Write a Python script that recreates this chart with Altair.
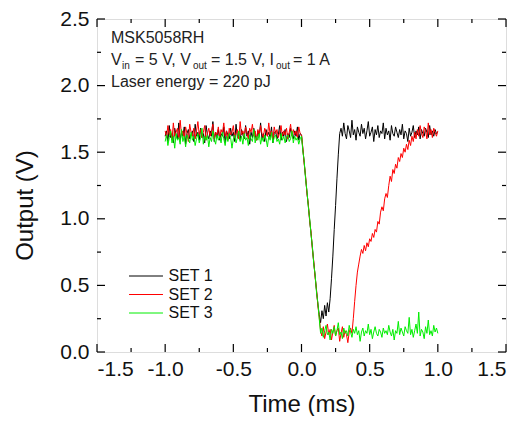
import altair as alt
import pandas as pd

# time grid (ms), 0.01 ms step from -1.00 to 1.00
time_ms = [round(-1.0 + i * 0.01, 2) for i in range(201)]

set1 = [
    1.62,1.66,1.58,1.70,1.61,1.64,1.57,1.68,1.63,1.60,
    1.72,1.59,1.65,1.62,1.69,1.56,1.64,1.67,1.60,1.63,
    1.66,1.58,1.71,1.62,1.65,1.59,1.68,1.61,1.64,1.57,
    1.70,1.63,1.60,1.66,1.62,1.73,1.58,1.65,1.61,1.67,
    1.59,1.64,1.62,1.69,1.57,1.66,1.63,1.60,1.68,1.62,
    1.65,1.58,1.71,1.61,1.64,1.59,1.67,1.63,1.60,1.70,
    1.62,1.66,1.56,1.65,1.61,1.68,1.63,1.59,1.66,1.62,
    1.72,1.60,1.64,1.58,1.67,1.62,1.65,1.61,1.69,1.57,
    1.64,1.66,1.60,1.63,1.70,1.59,1.65,1.62,1.67,1.58,
    1.64,1.61,1.68,1.63,1.60,1.66,1.62,1.69,1.59,1.64,
    1.63,
    1.52,1.42,1.31,1.20,1.10,0.99,0.89,0.78,0.67,0.57,0.46,0.36,0.28,
    0.22,0.31,0.25,0.35,0.27,0.37,0.30,
    0.40,0.55,0.72,0.92,1.10,1.30,1.48,1.64,
    1.68,1.62,1.72,1.64,1.60,1.70,1.66,1.61,1.74,1.63,
    1.67,1.59,1.69,1.65,1.62,1.71,1.64,1.68,1.60,1.66,
    1.73,1.62,1.65,1.69,1.58,1.67,1.63,1.70,1.61,1.66,
    1.64,1.72,1.60,1.68,1.63,1.66,1.59,1.70,1.64,1.62,
    1.69,1.65,1.61,1.67,1.63,1.71,1.60,1.66,1.64,1.58,
    1.68,1.62,1.65,1.70,1.61,1.66,1.63,1.69,1.60,1.67,
    1.64,1.62,1.68,1.65,1.61,1.70,1.63,1.66,1.62,1.67,
    1.64,1.65,
]

set2 = [
    1.66,1.61,1.70,1.63,1.67,1.59,1.72,1.62,1.65,1.68,
    1.60,1.74,1.63,1.66,1.61,1.69,1.64,1.58,1.71,1.65,
    1.62,1.68,1.60,1.66,1.73,1.63,1.67,1.61,1.65,1.70,
    1.59,1.64,1.68,1.62,1.66,1.71,1.60,1.65,1.63,1.69,
    1.61,1.67,1.64,1.72,1.62,1.66,1.59,1.68,1.63,1.65,
    1.70,1.61,1.64,1.67,1.60,1.73,1.63,1.66,1.62,1.69,
    1.64,1.60,1.68,1.65,1.71,1.62,1.66,1.59,1.67,1.63,
    1.70,1.64,1.61,1.68,1.65,1.62,1.72,1.63,1.66,1.60,
    1.69,1.64,1.67,1.61,1.65,1.70,1.62,1.66,1.63,1.68,
    1.60,1.65,1.71,1.62,1.67,1.63,1.66,1.61,1.69,1.64,
    1.63,
    1.53,1.41,1.32,1.19,1.11,0.98,0.90,0.77,0.68,0.56,0.47,0.35,0.26,
    0.16,0.12,0.19,0.10,0.15,0.21,0.13,0.17,0.09,0.15,0.20,0.12,
    0.16,0.18,0.08,0.14,0.19,0.11,0.16,0.13,0.07,0.15,0.18,0.14,
    0.25,0.38,0.50,0.60,0.66,0.72,0.77,0.74,0.80,0.76,
    0.82,0.79,0.85,0.83,0.89,0.86,0.92,0.90,0.98,0.96,
    1.05,1.09,1.06,1.15,1.19,1.16,1.25,1.32,1.28,1.37,
    1.34,1.41,1.38,1.46,1.43,1.49,1.46,1.53,1.50,1.56,
    1.52,1.59,1.55,1.62,1.58,1.65,1.60,
    1.67,1.62,1.70,1.64,1.61,1.69,1.66,1.60,1.72,1.63,
    1.67,1.61,1.68,1.65,1.62,1.66,
]

set3 = [
    1.58,1.63,1.55,1.61,1.66,1.57,1.62,1.53,1.64,1.59,
    1.61,1.56,1.67,1.58,1.62,1.54,1.63,1.60,1.57,1.65,
    1.59,1.62,1.55,1.60,1.64,1.57,1.61,1.68,1.56,1.62,
    1.59,1.63,1.54,1.61,1.58,1.66,1.60,1.56,1.63,1.59,
    1.62,1.57,1.65,1.60,1.55,1.62,1.58,1.64,1.61,1.53,
    1.60,1.63,1.57,1.61,1.66,1.58,1.62,1.56,1.64,1.59,
    1.61,1.55,1.63,1.60,1.58,1.67,1.57,1.62,1.59,1.64,
    1.56,1.61,1.58,1.63,1.60,1.54,1.62,1.59,1.65,1.57,
    1.61,1.63,1.58,1.60,1.56,1.64,1.59,1.62,1.57,1.61,
    1.63,1.58,1.60,1.66,1.57,1.62,1.59,1.61,1.56,1.60,
    1.62,
    1.51,1.43,1.30,1.21,1.09,1.00,0.88,0.79,0.66,0.58,0.45,0.37,0.25,
    0.14,0.18,0.11,0.16,0.20,0.13,0.15,0.09,0.17,0.14,
    0.19,0.12,0.16,0.22,0.13,0.15,0.10,0.18,0.14,0.16,
    0.12,0.20,0.15,0.11,0.17,0.14,0.19,0.13,0.16,0.08,
    0.15,0.18,0.12,0.16,0.14,0.21,0.13,0.17,0.10,0.15,
    0.19,0.14,0.12,0.17,0.15,0.11,0.18,0.14,0.16,0.13,
    0.20,0.15,0.12,0.17,0.09,0.16,0.14,0.23,0.13,0.18,
    0.15,0.12,0.19,0.16,0.14,0.26,0.13,0.17,0.11,0.16,
    0.21,0.14,0.30,0.12,0.17,0.15,0.10,0.19,0.14,0.24,
    0.13,0.16,0.12,0.20,0.15,0.18,0.14,
]

series_names = ["SET 1", "SET 2", "SET 3"]
series_colors = ["#000000", "#ff0000", "#00ee00"]

x_major = [-1.5, -1.0, -0.5, 0.0, 0.5, 1.0, 1.5]
x_minor = [-1.25, -0.75, -0.25, 0.25, 0.75, 1.25]
y_major = [0.0, 0.5, 1.0, 1.5, 2.0, 2.5]
y_minor = [0.25, 0.75, 1.25, 1.75, 2.25]

# annotation segments: text, x (ms), y (V), font size
ann_text = ["MSK5058RH", "V", "in", "= 5 V, V", "out", "= 1.5 V, I", "out", "= 1 A",
            "Laser energy = 220 pJ"]
ann_x = [-1.397, -1.397, -1.317, -1.221, -0.796, -0.664, -0.187, -0.062, -1.397]
ann_y = [2.321, 2.157, 2.125, 2.157, 2.125, 2.157, 2.125, 2.157, 1.993]
ann_size = [16, 16, 10, 16, 10, 16, 10, 16, 16]

W, H = 409, 333
FONT = "Liberation Sans"

rows = []
for name, vals in zip(series_names, [set1, set2, set3]):
    for t, v in zip(time_ms, vals):
        rows.append({"t": t, "v": v, "series": name})
df = pd.DataFrame(rows)

xscale = alt.Scale(domain=[-1.5, 1.5], nice=False, zero=False)
yscale = alt.Scale(domain=[0, 2.5], nice=False, zero=False)
cscale = alt.Scale(domain=series_names, range=series_colors)

label_expr = "replace(format(datum.value, '.1f'), '\u2212', '-')"

xaxis = alt.Axis(values=x_major, labelExpr=label_expr, ticks=False, domain=False, grid=False,
                 labelFontSize=21, labelPadding=6, labelColor="#111", labelFont=FONT,
                 title="Time (ms)", titleFontSize=24, titleFontWeight="normal", titleFont=FONT,
                 titleColor="#111", titleY=40)
yaxis = alt.Axis(values=y_major, labelExpr=label_expr, ticks=False, domain=False, grid=False,
                 labelFontSize=21, labelPadding=8, labelColor="#111", labelFont=FONT,
                 title="Output (V)", titleFontSize=24, titleFontWeight="normal", titleFont=FONT,
                 titleColor="#111", titleX=-60, titleY=186)

legend = alt.Legend(title=None, orient="none", legendX=41, legendY=249,
                    symbolType="M-4,0H4", symbolSize=72, symbolStrokeWidth=1,
                    labelFontSize=16, labelFont=FONT, labelColor="#111",
                    rowPadding=2.5, labelOffset=14.5, padding=0)

X = alt.X("t:Q", scale=xscale, axis=xaxis)
Y = alt.Y("v:Q", scale=yscale, axis=yaxis)

layers = []
for name in series_names:
    layers.append(
        alt.Chart(df).transform_filter(alt.datum.series == name)
        .mark_line(strokeWidth=1, clip=True).encode(
            x=X, y=Y,
            color=alt.Color("series:N", scale=cscale, legend=legend),
            order="t:Q",
        )
    )

xmaj = pd.DataFrame({"t": x_major})
xmin = pd.DataFrame({"t": x_minor})
ymaj = pd.DataFrame({"v": y_major})
ymin = pd.DataFrame({"v": y_minor})


def xticks(d, L):
    base = alt.Chart(d).mark_rule(color="#000", strokeWidth=1.2)
    b = base.encode(x=X, y=alt.value(H), y2=alt.value(H - L))
    t = base.encode(x=X, y=alt.value(0), y2=alt.value(L))
    return [b, t]


def yticks(d, L):
    base = alt.Chart(d).mark_rule(color="#000", strokeWidth=1.2)
    l = base.encode(y=Y, x=alt.value(0), x2=alt.value(L))
    r = base.encode(y=Y, x=alt.value(W), x2=alt.value(W - L))
    return [l, r]


tick_layers = xticks(xmaj, 8) + xticks(xmin, 4) + yticks(ymaj, 8) + yticks(ymin, 4)

ann = pd.DataFrame({"text": ann_text, "t": ann_x, "v": ann_y, "size": ann_size})
ann_layer = alt.Chart(ann).mark_text(align="left", baseline="alphabetic", font=FONT,
                                     color="#222").encode(
    x=X, y=Y,
    text="text:N",
    size=alt.Size("size:Q", scale=None, legend=None),
)

chart = alt.layer(*layers, *tick_layers, ann_layer).properties(
    width=W, height=H,
    autosize=alt.AutoSizeParams(type="none"),
    padding={"left": 89, "top": 11, "right": 14, "bottom": 64},
).configure_view(stroke="#000", strokeWidth=1.6).configure(background="white")

chart.save("out.html", embed_options={"renderer": "svg", "actions": False})
